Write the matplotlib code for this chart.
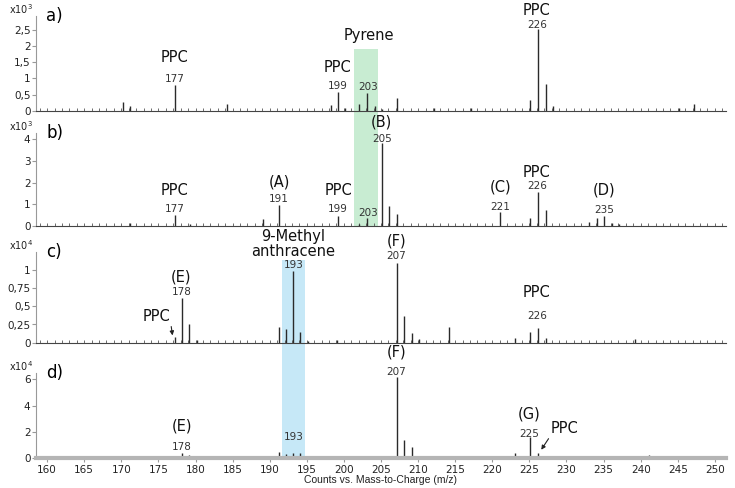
import matplotlib
matplotlib.use('Agg')
import matplotlib.pyplot as plt
from matplotlib.patches import Rectangle
from matplotlib.ticker import FuncFormatter, MultipleLocator
import matplotlib.transforms as mtransforms

# peak lists (m/z, intensity in units of the panel multiplier)
mz_a = [170.2, 171.2, 177.2, 184.2, 198.2, 199.2, 200.2, 202.1, 203.1, 204.2,
        205.1, 207.1, 212.2, 217.1, 225.1, 226.2, 227.2, 228.2, 245.2, 247.2]
int_a = [0.28, 0.15, 0.80, 0.20, 0.18, 0.59, 0.08, 0.20, 0.54, 0.15,
         0.05, 0.40, 0.08, 0.07, 0.33, 2.52, 0.82, 0.14, 0.07, 0.20]

mz_b = [171.2, 177.2, 179.2, 189.1, 191.2, 199.2, 202.1, 203.1, 205.1, 206.1,
        207.1, 221.1, 225.1, 226.2, 227.2, 233.1, 234.1, 235.1, 236.1, 237.1]
int_b = [0.15, 0.50, 0.10, 0.30, 0.97, 0.46, 0.10, 0.35, 3.81, 0.92,
         0.54, 0.63, 0.38, 1.58, 0.74, 0.20, 0.35, 0.47, 0.12, 0.10]

mz_c = [177.2, 178.2, 179.1, 180.2, 191.2, 192.2, 193.2, 194.1, 195.2, 199.1,
        207.2, 208.1, 209.2, 210.1, 214.2, 223.1, 225.1, 226.2, 227.2, 239.2]
int_c = [0.074, 0.61, 0.26, 0.04, 0.22, 0.19, 0.98, 0.15, 0.03, 0.04,
         1.10, 0.36, 0.14, 0.05, 0.21, 0.06, 0.15, 0.20, 0.07, 0.05]

mz_d = [178.2, 179.1, 191.2, 192.2, 193.2, 194.1, 195.2, 199.1, 207.2, 208.1,
        209.2, 210.1, 214.2, 223.1, 224.1, 225.1, 226.2, 227.2, 239.2, 241.1]
int_d = [0.42, 0.25, 0.45, 0.35, 0.42, 0.42, 0.20, 0.15, 6.15, 1.39,
         0.83, 0.20, 0.20, 0.42, 0.10, 1.60, 0.42, 0.10, 0.10, 0.25]

panel_names = ['a)', 'b)', 'c)', 'd)']
multipliers = ['3', '3', '4', '4']
yticks = [[0, 0.5, 1, 1.5, 2, 2.5], [0, 1, 2, 3, 4], [0, 0.25, 0.5, 0.75, 1], [0, 2, 4, 6]]
ytops = [2.93, 4.27, 1.25, 6.45]
xlabel = 'Counts vs. Mass-to-Charge (m/z)'

# labels: (m/z, y, text, kind)
# 'n' = peak number (baseline), 'l' = label (baseline), 'p' = label with brackets (bottom)
labels = [
    [(177.2, 0.90, '177', 'n'), (177.2, 1.52, 'PPC', 'l'),
     (199.2, 0.66, '199', 'n'), (199.2, 1.21, 'PPC', 'l'),
     (203.2, 0.64, '203', 'n'), (203.4, 2.19, 'Pyrene', 'l'),
     (226.1, 2.55, '226', 'n'), (226.0, 2.96, 'PPC', 'l')],
    [(177.2, 0.66, '177', 'n'), (177.2, 1.43, 'PPC', 'l'),
     (191.2, 1.09, '191', 'n'), (191.3, 1.66, '(A)', 'p'),
     (199.2, 0.63, '199', 'n'), (199.3, 1.43, 'PPC', 'l'),
     (203.2, 0.46, '203', 'n'),
     (205.1, 3.88, '205', 'n'), (205.1, 4.46, '(B)', 'p'),
     (221.1, 0.74, '221', 'n'), (221.1, 1.47, '(C)', 'p'),
     (226.1, 1.70, '226', 'n'), (225.9, 2.27, 'PPC', 'l'),
     (235.1, 0.58, '235', 'n'), (235.1, 1.32, '(D)', 'p')],
    [(178.2, 0.65, '178', 'n'), (178.1, 0.80, '(E)', 'p'),
     (193.2, 1.02, '193', 'n'), (193.2, 1.15, '9-Methyl\nanthracene', 'm'),
     (207.1, 1.15, '207', 'n'), (207.1, 1.30, '(F)', 'p'),
     (226.1, 0.32, '226', 'n'), (226.0, 0.63, 'PPC', 'l')],
    [(178.2, 0.63, '178', 'n'), (178.2, 1.90, '(E)', 'p'),
     (193.2, 1.39, '193', 'n'),
     (207.1, 6.32, '207', 'n'), (207.1, 7.46, '(F)', 'p'),
     (225.0, 1.60, '225', 'n'), (225.0, 2.78, '(G)', 'p')],
]
# arrow labels: (text x, text y, tip x, tip y, text)
arrows = [[], [], [(174.8, 0.26, 176.9, 0.10, 'PPC')], [(229.7, 1.70, 226.6, 0.65, 'PPC')]]

peaks = [(mz_a, int_a), (mz_b, int_b), (mz_c, int_c), (mz_d, int_d)]

fig = plt.figure(figsize=(7.35, 4.88), dpi=100)
plt.rcParams['font.family'] = 'DejaVu Sans'

# axes boxes in pixels: (top, bottom)
boxes = [(16, 110.7), (133.3, 226), (251.7, 342.7), (373.3, 458.3)]
left, right = 36, 726
xmin, xmax = 158.5, 251.5
H = 488.0
W = 735.0

comma = FuncFormatter(lambda v, p: ('%g' % v).replace('.', ','))

axes = []
for i, (top, bot) in enumerate(boxes):
    ax = fig.add_axes([left / W, 1 - bot / H, (right - left) / W, (bot - top) / H])
    ax.set_facecolor('none')
    ax.set_xlim(xmin, xmax)
    ax.set_ylim(0, ytops[i])
    mz, inten = peaks[i]
    ax.vlines(mz, 0, inten, color='#2a2a2a', lw=1.0)
    for s in ['top', 'right']:
        ax.spines[s].set_visible(False)
    ax.spines['left'].set_color('#999999')
    ax.set_yticks(yticks[i])
    ax.yaxis.set_major_formatter(comma)
    ax.tick_params(axis='y', length=3, width=0.8, color='#999999', labelsize=7.5,
                   labelcolor='#222222', pad=1)
    ax.xaxis.set_major_locator(MultipleLocator(5))
    if i < 3:
        ax.spines['bottom'].set_color('#444444')
        ax.spines['bottom'].set_linewidth(0.8)
        ax.xaxis.set_minor_locator(MultipleLocator(1))
        ax.tick_params(axis='x', which='both', direction='in', length=2, width=0.6,
                       color='#555555', labelbottom=False)
    else:
        ax.spines['bottom'].set_color('#b5b5b5')
        ax.spines['bottom'].set_linewidth(3)
        ax.tick_params(axis='x', length=3, width=0.8, color='#999999', labelsize=7.5,
                       labelcolor='#222222', pad=2)
        ax.set_xlabel(xlabel, fontsize=7.5, family='Liberation Sans', labelpad=0,
                      color='#222222')
    ax.text(-0.004, 1.0, r'x10$^{%s}$' % multipliers[i], transform=ax.transAxes,
            ha='right', va='bottom', fontsize=7, color='#222222')
    ax.text(0.0145, 1.0, panel_names[i], transform=ax.transAxes, ha='left',
            va='center', fontsize=12)
    for x, y, t, k in labels[i]:
        if k == 'n':
            ax.text(x, y, t, ha='center', va='baseline', fontsize=7.5, color='#333333',
                    clip_on=False)
        elif k == 'l':
            ax.text(x, y, t, ha='center', va='baseline', fontsize=10.5, color='#111111',
                    clip_on=False)
        else:
            ax.text(x, y, t, ha='center', va='bottom', fontsize=10.5, color='#111111',
                    clip_on=False, linespacing=1.0)
    for tx, ty, px, py, t in arrows[i]:
        ax.annotate(t, xy=(px, py), xytext=(tx, ty), ha='center', va='bottom',
                    fontsize=10.5, color='#111111',
                    arrowprops=dict(arrowstyle='-|>', color='#222222', lw=0.8,
                                    mutation_scale=6, shrinkA=0, shrinkB=0,
                                    relpos=(1.0, 0.0) if i == 2 else (0.0, 0.0)))
    axes.append(ax)

# highlight bands across panels
bands = [(axes[0], 201.4, 204.6, 49, 227, '#c8ecd2'),
         (axes[2], 191.6, 194.8, 260, 458.5, '#c6e8f7')]
for ax, x0, x1, ytop, ybot, col in bands:
    tr = mtransforms.blended_transform_factory(ax.transData, fig.transFigure)
    fig.patches.append(Rectangle((x0, 1 - ybot / H), x1 - x0, (ybot - ytop) / H,
                                 transform=tr, facecolor=col, edgecolor='none',
                                 zorder=-1))

fig.savefig('out.png', dpi=100)
